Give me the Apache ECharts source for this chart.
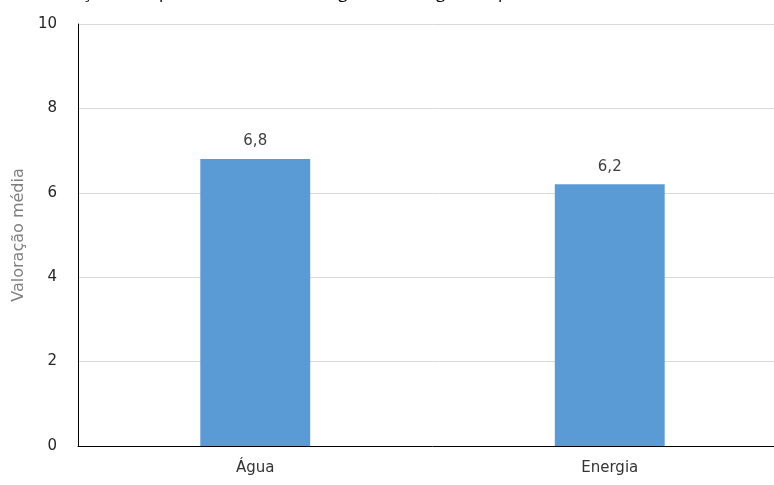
<!DOCTYPE html>
<html>
<head>
<meta charset="utf-8">
<script src="https://cdn.jsdelivr.net/npm/echarts@6/dist/echarts.min.js"></script>
<style>
  html, body { margin: 0; padding: 0; background: #ffffff; overflow: hidden; width: 774px; height: 485px; }
  /* plot area runs slightly past the right edge of the page */
  #chart { width: 787px; height: 485px; }
</style>
</head>
<body>
<div id="chart"></div>
<script>
// Average rating per resource
const categories = ['Água', 'Energia'];
const values = [6.8, 6.2];
const yTicks = [0, 2, 4, 6, 8, 10];
const titleText = 'Valoração da importância atribuída à água e à energia na opinião dos alunos';
const yAxisTitle = 'Valoração média';

const fontFamily = '"DejaVu Sans", "Open Sans", sans-serif';
const chart = echarts.init(document.getElementById('chart'), null, { renderer: 'canvas' });

chart.setOption({
  animation: false,
  backgroundColor: '#ffffff',
  title: {
    text: titleText,
    left: 27,
    top: -20,
    textStyle: { fontFamily: '"Open Sans", sans-serif', fontSize: 17, fontWeight: 'normal', color: '#000000' }
  },
  grid: { left: 78, right: 0, top: 24, bottom: 39, containLabel: false, outerBoundsMode: 'none' },
  xAxis: {
    type: 'category',
    data: categories,
    axisLine: { lineStyle: { color: '#000000', width: 1 } },
    axisTick: { show: false },
    axisLabel: { fontFamily, fontSize: 15, color: '#333333', margin: 15 }
  },
  yAxis: {
    type: 'value',
    min: yTicks[0],
    max: yTicks[yTicks.length - 1],
    interval: 2,
    name: yAxisTitle,
    nameLocation: 'middle',
    nameGap: 51,
    nameTextStyle: { fontFamily, fontSize: 16, color: '#7f7f7f' },
    axisLine: { show: true, lineStyle: { color: '#000000', width: 1 } },
    axisTick: { show: false },
    splitLine: { lineStyle: { color: '#d9d9d9', width: 1 } },
    axisLabel: {
      fontFamily, fontSize: 15, color: '#262626', margin: 21,
      formatter: v => String(v)
    }
  },
  series: [{
    type: 'bar',
    data: values,
    barWidth: '31%',
    itemStyle: { color: '#5b9bd5' },
    label: {
      show: true,
      position: 'top',
      distance: 10,
      fontFamily, fontSize: 15, color: '#404040',
      formatter: p => String(p.value).replace('.', ',')
    }
  }]
});
</script>
</body>
</html>
